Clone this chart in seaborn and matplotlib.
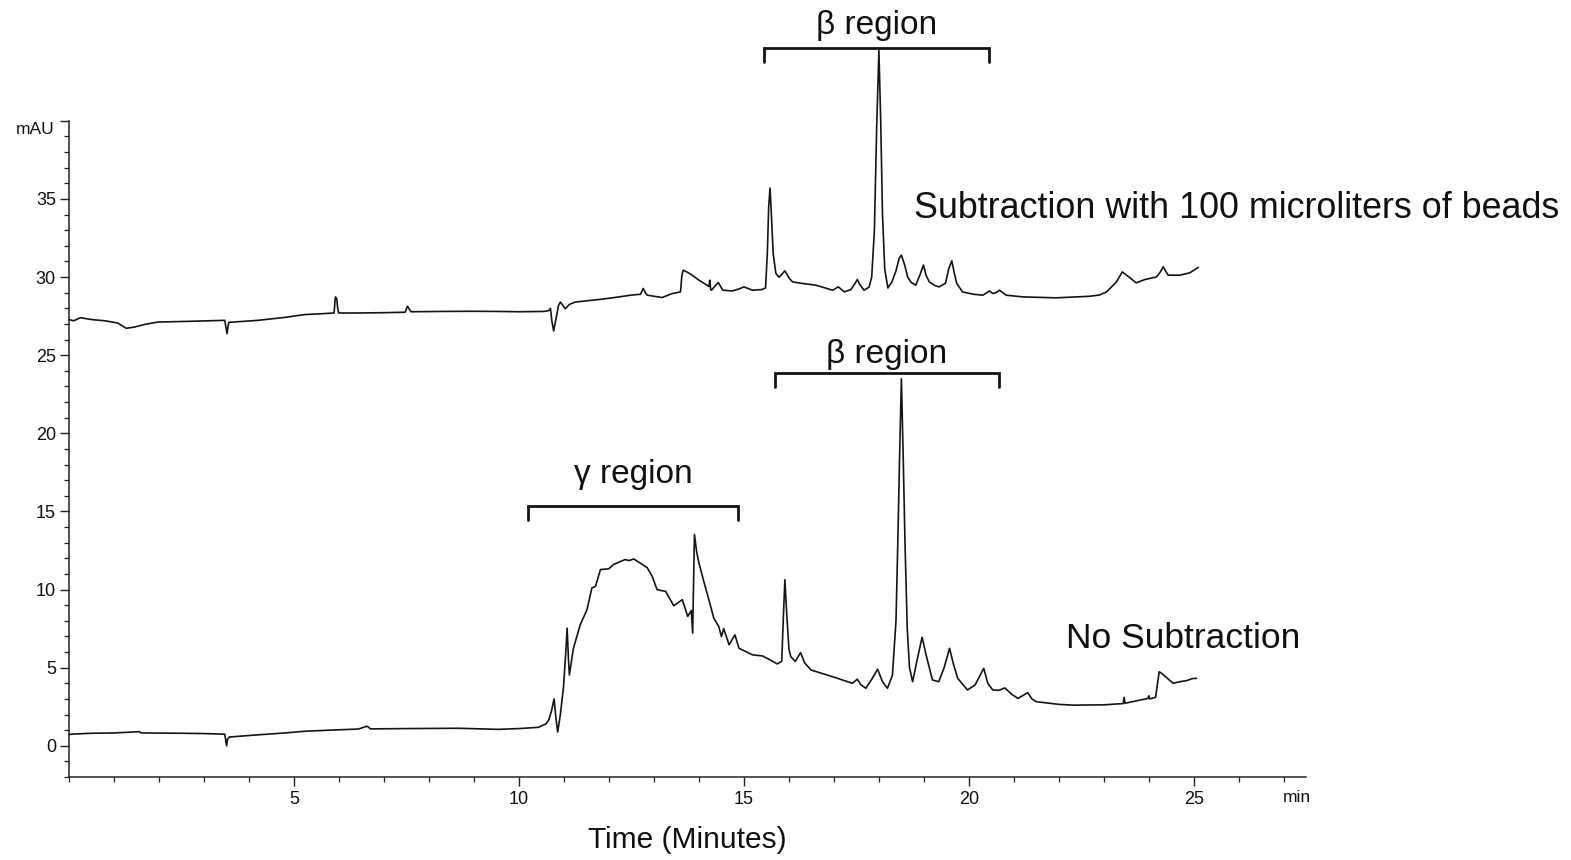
import numpy as np
import pandas as pd
import matplotlib
matplotlib.use("Agg")
import matplotlib.pyplot as plt
from matplotlib.ticker import MultipleLocator, FixedLocator
import matplotlib.transforms as mtrans
import seaborn as sns

# ---------------- data ----------------
sub_time = [0.0, 0.1, 0.25, 0.5, 0.8, 1.08, 1.27, 1.45, 1.7, 1.97, 2.71, 3.46, 3.49, 3.51, 3.53, 3.55,
            4.2, 4.8, 5.24, 5.6, 5.89, 5.91, 5.92, 5.95, 5.97, 5.99, 6.4, 7.0, 7.47, 7.52, 7.6, 8.3,
            8.95, 9.54, 10.0, 10.55, 10.66, 10.7, 10.73, 10.77, 10.82, 10.88, 10.92, 10.97, 11.03,
            11.12, 11.25, 11.5, 11.77, 12.1, 12.48, 12.7, 12.76, 12.82, 12.85, 13.18, 13.4, 13.59,
            13.62, 13.65, 13.75, 13.85, 14.0, 14.18, 14.22, 14.24, 14.26, 14.28, 14.38, 14.43, 14.48,
            14.53, 14.74, 14.9, 15.0, 15.19, 15.4, 15.48, 15.52, 15.55, 15.58, 15.61, 15.65, 15.71,
            15.78, 15.85, 15.91, 16.0, 16.08, 16.3, 16.6, 16.97, 17.1, 17.23, 17.38, 17.47, 17.52,
            17.58, 17.67, 17.78, 17.84, 17.9, 17.95, 18.0, 18.04, 18.08, 18.13, 18.2, 18.29, 18.38,
            18.45, 18.5, 18.57, 18.64, 18.72, 18.82, 18.92, 18.99, 19.05, 19.12, 19.25, 19.34, 19.48,
            19.55, 19.62, 19.68, 19.73, 19.86, 20.1, 20.31, 20.46, 20.53, 20.6, 20.68, 20.83, 21.2,
            21.94, 22.68, 22.9, 23.06, 23.28, 23.41, 23.56, 23.72, 23.91, 24.17, 24.25, 24.32, 24.37,
            24.43, 24.69, 24.91, 25.1]
sub_mau = [27.28, 27.2, 27.4, 27.28, 27.2, 27.06, 26.72, 26.8, 26.98, 27.12, 27.17, 27.23, 26.7, 26.38, 26.8, 27.1,
           27.23, 27.42, 27.6, 27.65, 27.7, 28.5, 28.73, 28.6, 28.0, 27.7, 27.7, 27.72, 27.75, 28.13, 27.78, 27.8,
           27.81, 27.8, 27.78, 27.8, 27.85, 28.0, 27.2, 26.55, 27.3, 28.2, 28.4, 28.2, 27.97,
           28.25, 28.4, 28.48, 28.56, 28.68, 28.84, 28.9, 29.27, 28.95, 28.84, 28.69, 28.94, 29.05,
           30.1, 30.44, 30.3, 30.12, 29.8, 29.48, 29.4, 29.8, 29.2, 29.16, 29.5, 29.65, 29.4,
           29.16, 29.11, 29.25, 29.37, 29.16, 29.2, 29.3, 31.5, 34.5, 35.7, 34.0, 31.5, 30.23,
           29.99, 30.2, 30.4, 29.95, 29.69, 29.59, 29.48, 29.16, 29.37, 29.05, 29.2, 29.6, 29.84,
           29.5, 29.16, 29.35, 30.0, 33.0, 39.5, 44.5, 40.0, 34.0, 30.5, 29.3, 29.7, 30.4,
           31.2, 31.4, 30.8, 30.0, 29.65, 29.48, 30.2, 30.77, 30.1, 29.69, 29.45, 29.37, 29.6,
           30.5, 31.04, 30.2, 29.59, 29.05, 28.9, 28.84, 29.11, 28.95, 29.0, 29.16, 28.84, 28.73,
           28.67, 28.77, 28.85, 29.05, 29.69, 30.33, 30.0, 29.63, 29.84, 30.01, 30.3, 30.66, 30.4,
           30.12, 30.12, 30.27, 30.62]

raw_time = [0.0, 0.1, 0.5, 1.0, 1.56, 1.6, 2.5, 3.0, 3.46, 3.49, 3.5, 3.52, 3.56, 4.2, 4.8, 5.24, 5.8,
            6.43, 6.62, 6.65, 6.7, 7.5, 8.65, 9.54, 10.0, 10.43, 10.6, 10.66, 10.72, 10.78, 10.82,
            10.86, 10.92, 10.99, 11.04, 11.07, 11.1, 11.12, 11.21, 11.36, 11.51, 11.62, 11.7, 11.81,
            11.99, 12.1, 12.36, 12.45, 12.55, 12.74, 12.85, 12.96, 13.07, 13.26, 13.44, 13.63, 13.75,
            13.83, 13.86, 13.88, 13.9, 13.95, 14.0, 14.1, 14.22, 14.33, 14.44, 14.5, 14.55, 14.67, 14.8,
            14.89, 15.19, 15.41, 15.58, 15.74, 15.84, 15.88, 15.91, 15.95, 16.0, 16.04, 16.14, 16.26,
            16.35, 16.49, 16.97, 17.2, 17.41, 17.52, 17.6, 17.71, 17.85, 17.97, 18.08, 18.19, 18.3,
            18.38, 18.42, 18.46, 18.5, 18.54, 18.58, 18.63, 18.68, 18.75, 18.85, 18.96, 19.05, 19.19,
            19.33, 19.45, 19.57, 19.65, 19.75, 19.97, 20.14, 20.33, 20.42, 20.53, 20.67, 20.8, 20.95,
            21.09, 21.31, 21.4, 21.5, 22.0, 22.31, 23.0, 23.43, 23.45, 23.47, 23.98, 24.0, 24.02,
            24.15, 24.23, 24.3, 24.54, 24.69, 24.84, 24.97, 25.06]
raw_mau = [0.72, 0.75, 0.8, 0.82, 0.9, 0.82, 0.8, 0.78, 0.74, 0.2, 0.0, 0.4, 0.56, 0.7, 0.82, 0.93, 1.0,
           1.07, 1.25, 1.2, 1.08, 1.1, 1.12, 1.05, 1.1, 1.18, 1.4, 1.65, 2.2, 3.0, 1.8,
           0.88, 2.0, 3.78, 6.0, 7.53, 5.5, 4.53, 6.24, 7.74, 8.7, 10.1, 10.2, 11.28,
           11.32, 11.6, 11.92, 11.85, 11.96, 11.6, 11.4, 10.85, 9.99, 9.88, 8.96, 9.35, 8.28,
           8.66, 7.21, 10.5, 13.52, 12.4, 11.7, 10.6, 9.35, 8.17, 7.63, 6.99, 7.5, 6.46, 7.1,
           6.24, 5.82, 5.75, 5.5, 5.24, 5.4, 8.5, 10.63, 8.5, 6.2, 5.71, 5.4, 5.96,
           5.3, 4.85, 4.42, 4.2, 4.0, 4.26, 3.9, 3.68, 4.3, 4.9, 4.1, 3.68, 4.5,
           8.0, 13.0, 18.5, 23.5, 18.5, 13.0, 7.5, 5.0, 4.1, 5.5, 6.95, 5.8, 4.21,
           4.1, 5.0, 6.24, 5.3, 4.32, 3.57, 3.9, 4.96, 4.0, 3.57, 3.55, 3.7, 3.3,
           3.03, 3.4, 3.0, 2.82, 2.65, 2.6, 2.62, 2.7, 3.1, 2.72, 3.03, 3.2, 3.0,
           3.1, 4.74, 4.6, 4.0, 4.1, 4.17, 4.3, 4.32]

# region brackets: label, start, end, bracket height (mAU), label height (mAU)
region_labels = ["\u03b2 region", "\u03b2 region", "\u03b3 region"]
region_start = [15.44, 15.68, 10.21]
region_end = [20.44, 20.68, 14.87]
region_level = [44.65, 23.85, 15.36]
region_text_y = [46.1, 25.05, 17.35]

y_major = [0, 5, 10, 15, 20, 25, 30, 35]
x_major = [5, 10, 15, 20, 25]

# ---------------- plotting ----------------
sns.set_theme(style="ticks")
plt.rcParams["font.family"] = ["Liberation Sans", "DejaVu Sans"]

W, H = 1571, 860
fig = plt.figure(figsize=(W / 100, H / 100), dpi=100)
ax = fig.add_axes([0.0440, 0.0965, 0.7875, 0.763])

df_sub = pd.DataFrame({"time": sub_time, "mau": sub_mau})
df_raw = pd.DataFrame({"time": raw_time, "mau": raw_mau})
ink = "#141414"
sns.lineplot(data=df_sub, x="time", y="mau", ax=ax, color=ink, linewidth=1.2,
             estimator=None, sort=False)
sns.lineplot(data=df_raw, x="time", y="mau", ax=ax, color=ink, linewidth=1.2,
             estimator=None, sort=False)
for ln in ax.lines:
    ln.set_clip_on(False)

ax.set_xlim(0, 27.5)
ax.set_ylim(-2, 40)
ax.set_xlabel("")
ax.set_ylabel("")
sns.despine(ax=ax)
for s in ["left", "bottom"]:
    ax.spines[s].set_linewidth(1.1)
    ax.spines[s].set_color("#222222")

ax.xaxis.set_major_locator(FixedLocator(x_major))
ax.xaxis.set_minor_locator(MultipleLocator(1))
ax.yaxis.set_major_locator(FixedLocator(y_major + [40]))
ax.yaxis.set_minor_locator(MultipleLocator(1))
ax.set_yticklabels([str(v) for v in y_major] + [""])
ax.tick_params(axis="both", which="major", direction="out", length=6.5, width=1.0,
               color="#222222", labelsize=13, labelcolor="#111111")
ax.tick_params(axis="both", which="minor", direction="out", length=3.6, width=0.9,
               color="#222222")
ax.tick_params(axis="y", which="major", pad=3)
ax.tick_params(axis="x", which="major", pad=3.5)

# mAU label at top of y axis
trans = mtrans.blended_transform_factory(ax.transAxes, ax.transData)
ax.text(-0.0115, 39.45, "mAU", transform=trans, ha="right", va="center",
        fontsize=12.5, color="#111111")
fig.text(1297 / W, 1 - 797 / H, "min", ha="center", va="center", fontsize=12.5,
         color="#111111")

# region brackets
drop = 0.9
for lab, x0, x1, lv, ty in zip(region_labels, region_start, region_end, region_level,
                               region_text_y):
    ax.plot([x0, x0, x1, x1], [lv - drop, lv, lv, lv - drop], color=ink,
            linewidth=2.0, clip_on=False, solid_joinstyle="miter")
    ax.text((x0 + x1) / 2, ty, lab, ha="center", va="center", fontsize=24,
            color="#111111", clip_on=False)

fig.text(914 / W, 1 - 208 / H, "Subtraction with 100 microliters of beads",
         ha="left", va="center", fontsize=25.8, color="#111111")
fig.text(1066 / W, 1 - 638 / H, "No Subtraction", ha="left", va="center",
         fontsize=25.5, color="#111111")
fig.text(687 / W, 1 - 840 / H, "Time (Minutes)", ha="center", va="center",
         fontsize=21.5, color="#111111")

fig.savefig("out.png", dpi=100, facecolor="white")
